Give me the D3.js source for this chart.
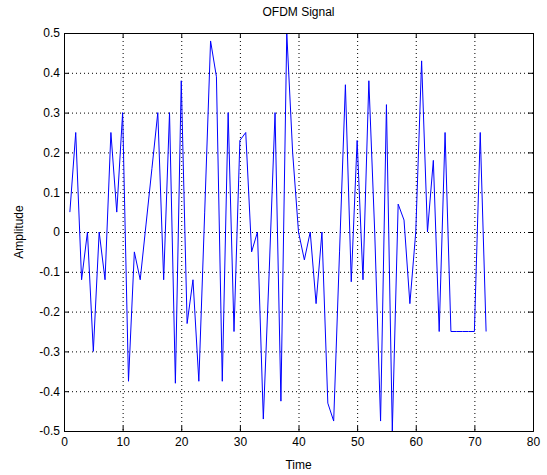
<!DOCTYPE html>
<html>
<head>
<meta charset="utf-8">
<script src="https://cdn.jsdelivr.net/npm/d3@7"></script>
<style>
    body { margin: 0; background: #fff; }
    svg text { font-family: "Liberation Sans", Arial, sans-serif; font-size: 12px; fill: #000; }
</style>
</head>
<body>
<div id="chart"></div>
<script>
// Sample values (t = 1..72)
var amplitude = [
    0.05, 0.25, -0.12, 0.0, -0.30, 0.0, -0.12, 0.25, 0.05, 0.30,
    -0.375, -0.05, -0.12, 0.02, 0.16, 0.30, -0.12, 0.30, -0.38, 0.38,
    -0.23, -0.12, -0.375, 0.05, 0.48, 0.39, -0.375, 0.30, -0.25, 0.23,
    0.25, -0.05, 0.0, -0.47, -0.10, 0.30, -0.425, 0.50, 0.20, 0.0,
    -0.07, 0.0, -0.18, 0.0, -0.43, -0.475, -0.05, 0.37, -0.125, 0.23,
    -0.12, 0.38, 0.0, -0.475, 0.32, -0.50, 0.07, 0.03, -0.18, 0.0,
    0.43, 0.0, 0.18, -0.25, 0.25, -0.25, -0.25, -0.25, -0.25, -0.25,
    0.25, -0.25
];
var xTicks = [0, 10, 20, 30, 40, 50, 60, 70, 80];
var yTicks = [-0.5, -0.4, -0.3, -0.2, -0.1, 0, 0.1, 0.2, 0.3, 0.4, 0.5];

var data = amplitude.map(function(v, i) { return {t: i + 1, v: v}; });

var W = 547, H = 475;
var M = {top: 33, right: 14, bottom: 44, left: 64};
var w = W - M.left - M.right;
var h = H - M.top - M.bottom;

var svg = d3.select('#chart').append('svg')
    .attr('width', W)
    .attr('height', H);

var g = svg.append('g').attr('transform', 'translate(' + M.left + ',' + M.top + ')');

var x = d3.scaleLinear().domain([0, 80]).range([0, w]);
var y = d3.scaleLinear().domain([-0.5, 0.5]).range([h, 0]);

// dotted grid
g.append('g')
    .attr('class', 'grid')
    .call(d3.axisBottom(x).tickValues(xTicks).tickSize(h).tickFormat(''))
    .call(function(s) { s.select('.domain').remove(); });
g.append('g')
    .attr('class', 'grid')
    .call(d3.axisLeft(y).tickValues(yTicks).tickSize(-w).tickFormat(''))
    .call(function(s) { s.select('.domain').remove(); });
g.selectAll('.grid line')
    .attr('stroke', '#000')
    .attr('stroke-width', 1)
    .attr('stroke-dasharray', '1,3');

// signal
var line = d3.line()
    .x(function(d) { return x(d.t); })
    .y(function(d) { return y(d.v); });

g.append('path')
    .datum(data)
    .attr('fill', 'none')
    .attr('stroke', '#0000ff')
    .attr('stroke-width', 1)
    .attr('d', line);

// axes (ticks inward, matlab style)
var fmtY = function(d) { return d === 0 ? '0' : d3.format('.1f')(d).replace('\u2212', '-'); };
var xAxis = g.append('g')
    .attr('transform', 'translate(0,' + h + ')')
    .call(d3.axisBottom(x).tickValues(xTicks).tickSize(-5).tickPadding(8).tickFormat(d3.format('d')));
var yAxis = g.append('g')
    .call(d3.axisLeft(y).tickValues(yTicks).tickSize(-5).tickPadding(8).tickFormat(fmtY));
g.append('g')
    .call(d3.axisTop(x).tickValues(xTicks).tickSize(-5).tickFormat(''));
g.append('g')
    .attr('transform', 'translate(' + w + ',0)')
    .call(d3.axisRight(y).tickValues(yTicks).tickSize(-5).tickFormat(''));

g.selectAll('.domain').attr('stroke', '#000');
g.selectAll('.tick line').attr('stroke', '#000');
g.selectAll('.tick text').attr('font-size', '12px').attr('font-family', '"Liberation Sans", Arial, sans-serif').attr('fill', '#000');
yAxis.selectAll('.tick text').attr('x', -4);
xAxis.selectAll('.tick text').attr('y', 6);

// title and labels
svg.append('text')
    .attr('x', M.left + w / 2)
    .attr('y', 16)
    .attr('text-anchor', 'middle')
    .text('OFDM Signal');

svg.append('text')
    .attr('x', M.left + w / 2)
    .attr('y', 469)
    .attr('text-anchor', 'middle')
    .text('Time');

svg.append('text')
    .attr('transform', 'translate(23,' + (M.top + h / 2) + ') rotate(-90)')
    .attr('text-anchor', 'middle')
    .text('Amplitude');
</script>
</body>
</html>
